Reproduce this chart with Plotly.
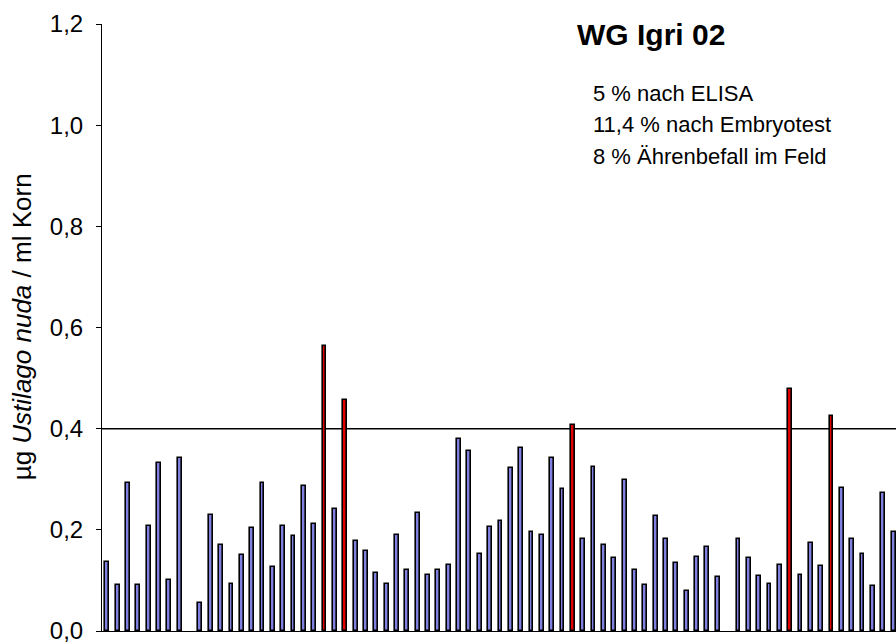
import plotly.graph_objects as go

# ---- data ----
sample_ids = list(range(1, 78))
ustilago_ug_per_ml = [
    0.137, 0.090, 0.293, 0.090, 0.208, 0.332, 0.101, 0.342, None, 0.055,
    0.230, 0.170, 0.092, 0.151, 0.204, 0.293, 0.127, 0.208, 0.188, 0.287,
    0.212, 0.563, 0.242, 0.457, 0.177, 0.158, 0.115, 0.093, 0.190, 0.121,
    0.233, 0.111, 0.121, 0.130, 0.379, 0.356, 0.153, 0.206, 0.218, 0.322,
    0.362, 0.196, 0.190, 0.343, 0.281, 0.407, 0.181, 0.324, 0.170, 0.145,
    0.298, 0.121, 0.090, 0.227, 0.181, 0.134, 0.079, 0.147, 0.167, 0.107,
    None, 0.181, 0.145, 0.109, 0.093, 0.130, 0.479, 0.111, 0.173, 0.129,
    0.425, 0.283, 0.182, 0.152, 0.089, 0.272, 0.196,
]
threshold = 0.4
y_tick_values = [0.0, 0.2, 0.4, 0.6, 0.8, 1.0, 1.2]
title_text = "<b>WG Igri 02</b>"
info_lines = ["5 % nach ELISA", "11,4 % nach Embryotest", "8 % Ährenbefall im Feld"]
y_title = "µg <i>Ustilago nuda</i> / ml Korn"

FONT = "Liberation Sans, Arial, sans-serif"
BLUE = "#8080E0"
RED = "#E00000"

colors = [RED if (v is not None and v > threshold) else BLUE for v in ustilago_ug_per_ml]

fig = go.Figure()
fig.add_trace(go.Bar(
    x=sample_ids,
    y=ustilago_ug_per_ml,
    width=0.37,
    marker=dict(color=colors, line=dict(color="black", width=1.6)),
    hoverinfo="x+y",
))

fig.add_shape(type="line", xref="paper", yref="y", x0=0, x1=1,
              y0=threshold, y1=threshold, line=dict(color="black", width=1.5),
              layer="below")

fig.update_layout(
    width=896, height=644,
    margin=dict(l=102, r=0, t=24, b=13, pad=0),
    paper_bgcolor="white", plot_bgcolor="white",
    separators=",.",
    showlegend=False,
    bargap=0,
    font=dict(family=FONT, color="black"),
    xaxis=dict(
        range=[0.49, 77.23], showticklabels=False, ticks="",
        showgrid=False, zeroline=False,
        showline=True, linecolor="black", linewidth=1.2,
    ),
    yaxis=dict(
        range=[0, 1.2], tickvals=y_tick_values, tickformat=".1f",
        ticks="outside", ticklen=5, tickwidth=1, tickcolor="black",
        showgrid=False, zeroline=False,
        showline=True, linecolor="black", linewidth=1,
        tickfont=dict(size=24, family=FONT, color="black"),
        ticklabelstandoff=8,
        ticklabeloverflow="allow",
    ),
)

fig.add_annotation(text=title_text, xref="paper", yref="paper",
                   x=0.5957, y=0.982, xanchor="left", yanchor="middle",
                   showarrow=False, font=dict(size=30, family=FONT, color="black"))

info_y = [0.886, 0.835, 0.7825]
for line, yy in zip(info_lines, info_y):
    fig.add_annotation(text=line, xref="paper", yref="paper",
                       x=0.6159, y=yy, xanchor="left", yanchor="middle",
                       showarrow=False, font=dict(size=22, family=FONT, color="black"))

fig.add_annotation(text=y_title, xref="paper", yref="paper",
                   x=-0.101, y=0.5016, xanchor="center", yanchor="middle",
                   textangle=-90, showarrow=False,
                   font=dict(size=26, family=FONT, color="black"))

fig.write_html(
    "out.html",
    config={"displayModeBar": False},
    post_script="document.body.style.margin='0';document.body.style.overflow='hidden';",
)
